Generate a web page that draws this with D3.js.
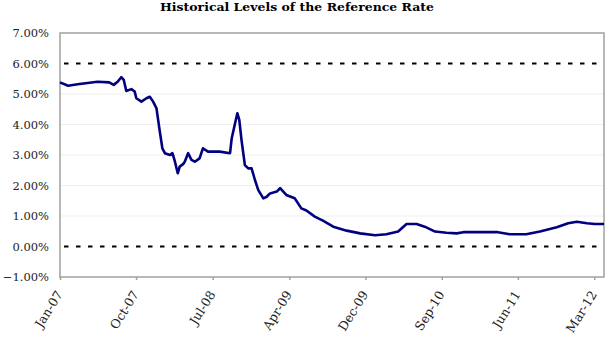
<!DOCTYPE html>
<html>
<head>
<meta charset="utf-8">
<script src="https://cdn.jsdelivr.net/npm/d3@7"></script>
<style>
  html, body { margin: 0; padding: 0; background: #fff; }
  svg { display: block; }
</style>
</head>
<body>
<svg id="chart" width="610" height="339"></svg>
<script>
const title = "Historical Levels of the Reference Rate";
const dates = [
  "2007-01-02","2007-01-31","2007-03-06","2007-05-16","2007-06-27","2007-07-13","2007-07-27","2007-08-09",
  "2007-08-18","2007-08-27","2007-09-14","2007-09-26","2007-10-02","2007-10-20","2007-11-07","2007-11-19",
  "2007-12-01","2007-12-13","2007-12-25","2008-01-03","2008-01-12","2008-01-30","2008-02-08","2008-02-17",
  "2008-02-27","2008-03-05","2008-03-17","2008-03-23","2008-04-04","2008-04-16","2008-04-28","2008-05-15",
  "2008-05-27","2008-06-14","2008-07-02","2008-07-26","2008-09-01","2008-09-07","2008-09-19","2008-09-27",
  "2008-10-04","2008-10-12","2008-10-24","2008-11-05","2008-11-17","2008-11-29","2008-12-11","2008-12-29",
  "2009-01-10","2009-01-22","2009-02-15","2009-02-27","2009-03-21","2009-04-20","2009-05-14","2009-06-01",
  "2009-07-01","2009-07-30","2009-09-05","2009-10-23","2009-12-10","2010-02-02","2010-03-14","2010-04-25",
  "2010-05-25","2010-06-30","2010-07-29","2010-09-04","2010-10-15","2010-11-20","2010-12-14","2011-04-17",
  "2011-05-29","2011-07-27","2011-09-14","2011-11-13","2011-12-24","2012-01-24","2012-02-29","2012-03-28",
  "2012-04-30"
];
const rates = [
  5.38,5.27,5.32,5.40,5.38,5.30,5.40,5.55,
  5.46,5.10,5.16,5.08,4.86,4.75,4.86,4.91,
  4.75,4.53,3.76,3.22,3.06,3.00,3.06,2.78,
  2.40,2.62,2.70,2.78,3.06,2.84,2.78,2.89,
  3.22,3.11,3.11,3.11,3.06,3.55,4.04,4.37,
  4.15,3.49,2.67,2.56,2.56,2.18,1.85,1.58,
  1.63,1.74,1.80,1.91,1.69,1.58,1.25,1.18,
  0.98,0.85,0.65,0.52,0.43,0.37,0.40,0.49,
  0.74,0.74,0.65,0.49,0.45,0.43,0.47,0.47,
  0.40,0.40,0.49,0.63,0.76,0.81,0.76,0.74,
  0.74
];
const tickDates = ["2007-01-02","2007-10-01","2008-07-01","2009-04-01","2009-12-29","2010-09-28","2011-06-27","2012-03-26"];
const yTicks = [-1,0,1,2,3,4,5,6,7];
const refLines = [6, 0];

const parse = d3.timeParse("%Y-%m-%d");
const data = dates.map((d, i) => ({ date: parse(d), value: rates[i] }));

const svg = d3.select("#chart");
const m = { left: 60, right: 604, top: 33, bottom: 277 };

const x = d3.scaleTime()
  .domain([parse("2007-01-02"), parse("2012-04-30")])
  .range([m.left, m.right]);
const y = d3.scaleLinear().domain([-1, 7]).range([m.bottom, m.top]);

// title
svg.append("text")
  .attr("x", 297).attr("y", 11)
  .attr("text-anchor", "middle")
  .attr("font-family", "DejaVu Serif, serif")
  .attr("font-weight", "bold")
  .attr("font-size", 11)
  .attr("textLength", 274)
  .attr("lengthAdjust", "spacingAndGlyphs")
  .text(title);

// gridlines
svg.append("g").selectAll("line")
  .data(yTicks.filter(t => t > -1 && t < 7 && !refLines.includes(t)))
  .join("line")
  .attr("x1", m.left).attr("x2", m.right)
  .attr("y1", d => y(d)).attr("y2", d => y(d))
  .attr("stroke", "#efefef").attr("stroke-width", 1);

// plot border
svg.append("rect")
  .attr("x", m.left).attr("y", m.top)
  .attr("width", m.right - m.left).attr("height", m.bottom - m.top)
  .attr("fill", "none").attr("stroke", "#a0a0a0").attr("stroke-width", 1.5);

// reference dashed lines
svg.append("g").selectAll("line")
  .data(refLines)
  .join("line")
  .attr("x1", m.left + 4).attr("x2", m.right)
  .attr("y1", d => y(d)).attr("y2", d => y(d))
  .attr("stroke", "#000").attr("stroke-width", 2)
  .attr("stroke-dasharray", "4.5,7.5");

// y axis labels
const yAxis = d3.axisLeft(y).tickValues(yTicks)
  .tickFormat(d => d3.format(".2f")(d) + "%")
  .tickSize(0).tickPadding(11);
svg.append("g")
  .attr("transform", `translate(${m.left},0)`)
  .call(yAxis)
  .call(g => g.select(".domain").remove())
  .call(g => g.selectAll("text")
    .attr("font-family", "DejaVu Serif, serif")
    .attr("font-size", 11.5)
    .attr("fill", "#222"));

// x axis
const xAxis = d3.axisBottom(x)
  .tickValues(tickDates.map(parse))
  .tickFormat(d3.timeFormat("%b-%y"))
  .tickSize(3).tickSizeOuter(0);
svg.append("g")
  .attr("transform", `translate(0,${m.bottom})`)
  .call(xAxis)
  .call(g => g.select(".domain").remove())
  .call(g => g.selectAll(".tick line").attr("stroke", "#a0a0a0").attr("stroke-width", 1.5))
  .call(g => g.selectAll("text")
    .attr("font-family", "DejaVu Serif, serif")
    .attr("font-size", 12.5)
    .attr("fill", "#222")
    .attr("text-anchor", "end")
    .attr("dy", "0.35em")
    .attr("transform", "translate(-1,15) rotate(-58)")
    .attr("x", 0).attr("y", 0));

// line
const line = d3.line().x(d => x(d.date)).y(d => y(d.value));
svg.append("path")
  .datum(data)
  .attr("d", line)
  .attr("fill", "none")
  .attr("stroke", "#000080")
  .attr("stroke-width", 2.6)
  .attr("stroke-linejoin", "round");
</script>
</body>
</html>
